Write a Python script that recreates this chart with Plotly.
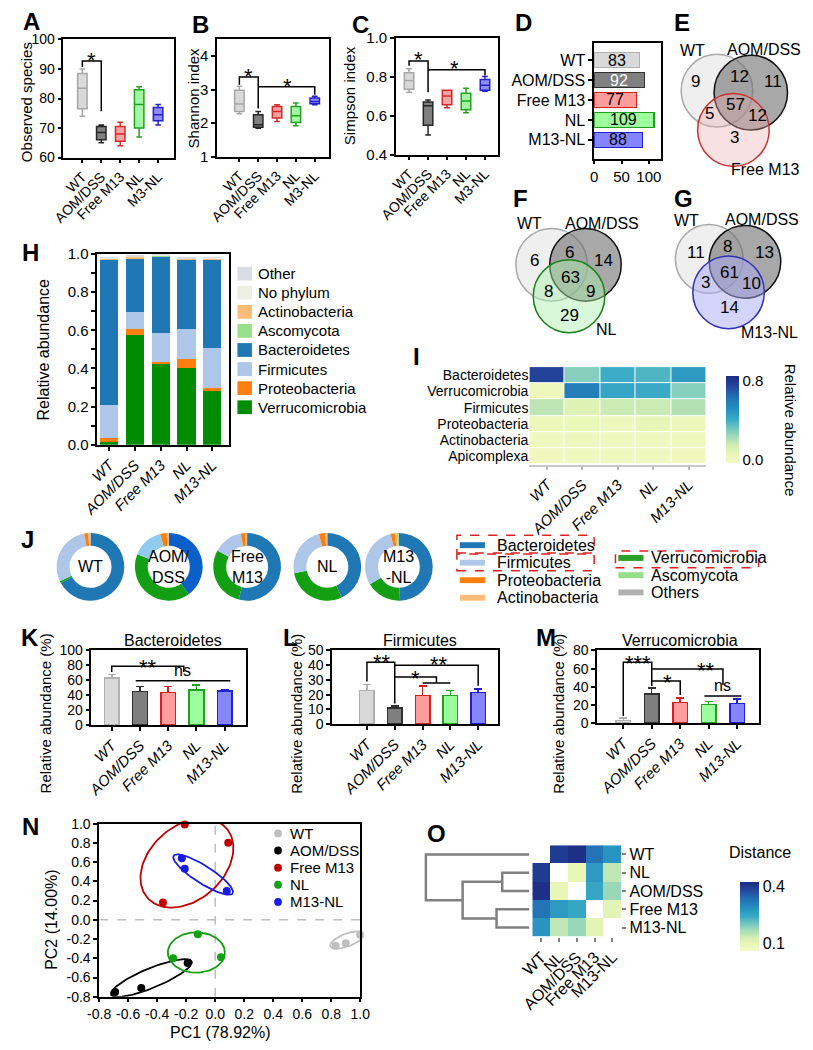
import numpy as np
import plotly.graph_objects as go

W, H = 813, 1050
FONT = "Arial, Liberation Sans, sans-serif"

# ------------------------------------------------------------------ data
box_groups = ["WT", "AOM/DSS", "Free M13", "NL", "M3-NL"]
groups = ["WT", "AOM/DSS", "Free M13", "NL", "M13-NL"]

obs_low = [74, 65, 64, 67, 71]
obs_q1 = [76.5, 66, 65.5, 70, 72.5]
obs_med = [83.5, 68.5, 68, 78, 74.5]
obs_q3 = [88.5, 70.5, 70.5, 83, 77]
obs_high = [90, 71, 72, 84, 78]
sha_low = [2.28, 1.85, 2.05, 1.92, 2.55]
sha_q1 = [2.35, 1.88, 2.15, 2.02, 2.58]
sha_med = [2.57, 1.95, 2.35, 2.22, 2.65]
sha_q3 = [2.98, 2.25, 2.5, 2.5, 2.75]
sha_high = [3.1, 2.35, 2.55, 2.6, 2.8]
sim_low = [0.72, 0.50, 0.64, 0.615, 0.725]
sim_q1 = [0.735, 0.55, 0.655, 0.63, 0.73]
sim_med = [0.78, 0.65, 0.70, 0.675, 0.755]
sim_q3 = [0.82, 0.67, 0.73, 0.715, 0.785]
sim_high = [0.84, 0.68, 0.73, 0.74, 0.80]

otu_counts = [83, 92, 77, 109, 88]

venn_E = [9, 12, 11, 5, 57, 12, 3]
venn_F = [6, 6, 14, 8, 63, 9, 29]
venn_G = [11, 8, 13, 3, 61, 10, 14]

H_verr = [0.015, 0.575, 0.425, 0.405, 0.28]
H_prot = [0.02, 0.03, 0.01, 0.045, 0.02]
H_firm = [0.175, 0.09, 0.15, 0.155, 0.205]
H_bact = [0.76, 0.28, 0.40, 0.365, 0.465]
H_asco = [0.0, 0.0, 0.008, 0.0, 0.0]
H_acti = [0.008, 0.01, 0.0, 0.005, 0.008]
H_noph = [0.003, 0.003, 0.004, 0.003, 0.003]
H_other = [0.002, 0.002, 0.006, 0.002, 0.002]

I_rows = ["Bacteroidetes", "Verrucomicrobia", "Firmicutes", "Proteobacteria", "Actinobacteria", "Apicomplexa"]
I_bact = [0.76, 0.28, 0.40, 0.37, 0.47]
I_verr = [0.015, 0.58, 0.43, 0.41, 0.28]
I_firm = [0.18, 0.09, 0.15, 0.15, 0.20]
I_prot = [0.02, 0.03, 0.01, 0.045, 0.02]
I_acti = [0.005, 0.01, 0.003, 0.005, 0.008]
I_apic = [0.0, 0.001, 0.003, 0.002, 0.0]

J_phyla = ["Bacteroidetes", "Verrucomicrobia", "Firmicutes", "Proteobacteria", "Actinobacteria", "Ascomycota"]
J_WT = [0.67, 0.01, 0.29, 0.02, 0.01, 0.0]
J_AOM = [0.40, 0.41, 0.15, 0.03, 0.01, 0.0]
J_Free = [0.54, 0.29, 0.14, 0.02, 0.01, 0.0]
J_NL = [0.43, 0.29, 0.24, 0.03, 0.01, 0.0]
J_M13NL = [0.50, 0.17, 0.30, 0.02, 0.01, 0.01]
J_names = ["WT", "AOM/<br>DSS", "Free<br>M13", "NL", "M13<br>-NL"]

bact_mean = [63, 45, 44, 47, 46]
bact_err = [5, 7, 8, 7, 2]
firm_mean = [23, 11, 19.5, 19.5, 21.5]
firm_err = [4, 1.5, 6.5, 3.5, 2.5]
verr_mean = [3, 32, 23, 20.5, 21.5]
verr_err = [2.5, 7, 5, 3.5, 5]

pc1_WT = [0.83, 0.90, 1.0]
pc2_WT = [-0.27, -0.245, -0.155]
pc1_AOM = [-0.69, -0.51, -0.19]
pc2_AOM = [-0.75, -0.71, -0.45]
pc1_Free = [-0.21, 0.09, -0.36]
pc2_Free = [0.99, 0.80, 0.18]
pc1_NL = [-0.12, -0.29, 0.04]
pc2_NL = [-0.15, -0.40, -0.39]
pc1_M13NL = [-0.23, -0.21, 0.08]
pc2_M13NL = [0.64, 0.53, 0.30]

O_labels = ["WT", "NL", "AOM/DSS", "Free M13", "M13-NL"]
O_dist = [[None, 0.40, 0.42, 0.33, 0.28],
          [0.40, None, 0.10, 0.27, 0.15],
          [0.42, 0.10, None, 0.25, 0.18],
          [0.33, 0.27, 0.25, None, 0.11],
          [0.28, 0.15, 0.18, 0.11, None]]
O_linkage = [[1, 2, 0.105], [3, 4, 0.127], [5, 6, 0.258], [0, 7, 0.40]]

# ------------------------------------------------------------------ styles
box_fill = ["#d9d9d9", "#7f7f7f", "#f7a3a3", "#a3f7a3", "#8c8cf5"]
box_line = ["#a6a6a6", "#262626", "#d42a2a", "#22a022", "#2222c8"]
bar_fill = ["#d9d9d9", "#7f7f7f", "#ff9c9c", "#9cff9c", "#8585ff"]
bar_line = ["#b0b0b0", "#303030", "#d42020", "#20a020", "#2020d0"]
H_col = {"Other": "#dadde3", "No phylum": "#eeefe2", "Actinobacteria": "#fdbb78",
         "Ascomycota": "#98df8a", "Bacteroidetes": "#1f77b4", "Firmicutes": "#aec7e8",
         "Proteobacteria": "#ff7f0e", "Verrucomicrobia": "#008c00"}
CS = [[0.0, '#f4fac6'], [0.1, '#eaf6b7'], [0.2, '#d2edb3'], [0.3, '#a5dcb8'],
      [0.4, '#6fc6bf'], [0.5, '#3aaac6'], [0.62, '#2690c0'], [0.75, '#2271b3'],
      [0.88, '#24479e'], [1.0, '#1c2d83']]

fig = go.Figure()
shapes, annotations = [], []
layout = dict(width=W, height=H, margin=dict(l=0, r=0, t=0, b=0),
              paper_bgcolor='white', plot_bgcolor='white', showlegend=False,
              font=dict(family=FONT, size=14, color='black'), barmode='stack')


def xd(a, b):
    return [a / W, b / W]


def yd(top, bottom):
    return [1 - bottom / H, 1 - top / H]


def ref(c, n):
    return c if n == 1 else f"{c}{n}"


def key(c, n):
    return f"{c}axis" if n == 1 else f"{c}axis{n}"


def base():
    return dict(showline=True, linecolor='black', linewidth=1.5, mirror=True, ticks='outside',
                ticklen=4, tickwidth=1.5, tickcolor='black', showgrid=False, zeroline=False,
                tickfont=dict(size=15, family=FONT, color='black'))


def set_axes(n, xpx, ypx, xo, yo):
    xa = base(); xa.update(domain=xd(*xpx), anchor=ref('y', n)); xa.update(xo)
    ya = base(); ya.update(domain=yd(*ypx), anchor=ref('x', n)); ya.update(yo)
    layout[key('x', n)] = xa
    layout[key('y', n)] = ya


def text(x, y, s, size=15, xa='center', ya='middle', color='black', angle=0,
         xref='paper', yref='paper', yshift=0, bold=False):
    if xref == 'paper':
        x = x / W
    if yref == 'paper':
        y = 1 - y / H
    if bold:
        s = f"<b>{s}</b>"
    annotations.append(dict(x=x, y=y, xref=xref, yref=yref, text=s, showarrow=False,
                            xanchor=xa, yanchor=ya, textangle=angle, yshift=yshift, borderpad=0,
                            font=dict(size=size, color=color, family=FONT)))


def bracket(n, pts, color='black'):
    path = 'M' + 'L'.join(f"{x},{y}" for x, y in pts)
    shapes.append(dict(type='path', path=path, xref=ref('x', n), yref=ref('y', n),
                       line=dict(color=color, width=1.5)))


def star(n, x, y, s, size=22):
    text(x, y, s, size=size, xref=ref('x', n), yref=ref('y', n), yshift=-0.25 * size)


def rect(x0, y0, x1, y1, fill, line=None, dash=None, lw=1.5):
    d = dict(type='rect', xref='paper', yref='paper', x0=x0 / W, x1=x1 / W,
             y0=1 - y1 / H, y1=1 - y0 / H, fillcolor=fill, layer='above')
    d['line'] = dict(width=0) if line is None else dict(color=line, width=lw, dash=dash or 'solid')
    shapes.append(d)


# panel letters: left edge / vertical centre in pixels
letters = [("A", 5, 13), ("B", 180, 16), ("C", 345, 16), ("D", 514, 14), ("E", 679, 14),
           ("F", 512, 193), ("G", 679, 193), ("H", 4, 248), ("I", 409, 353),
           ("J", 3, 539), ("K", 3, 639), ("L", 274, 639), ("M", 536, 639),
           ("N", 4, 831), ("O", 423, 838)]
for lt, lx, ly in letters:
    text(lx, ly, lt, size=24, bold=True, xa='left')

# ------------------------------------------------------------------ A, B, C
def box_panel(n, low, q1, med, q3, high):
    for i in range(5):
        fig.add_trace(go.Box(x=[i], lowerfence=[low[i]], q1=[q1[i]], median=[med[i]], q3=[q3[i]],
                             upperfence=[high[i]], fillcolor=box_fill[i],
                             line=dict(color=box_line[i], width=1.5), width=0.5, whiskerwidth=0.6,
                             boxpoints=False, xaxis=ref('x', n), yaxis=ref('y', n), hoverinfo='skip'))


xcat = dict(tickvals=list(range(5)), ticktext=box_groups, tickangle=-45, tickfont=dict(size=14, family=FONT))
ytf14 = dict(tickfont=dict(size=14, family=FONT))
box_panel(1, obs_low, obs_q1, obs_med, obs_q3, obs_high)
set_axes(1, (48, 162), (31, 151), dict(range=[-1.0, 4.82], **xcat),
         dict(range=[60, 100], tickvals=[60, 70, 80, 90, 100], **ytf14))
box_panel(2, sha_low, sha_q1, sha_med, sha_q3, sha_high)
set_axes(2, (207, 323), (31, 150), dict(range=[-1.18, 4.77], **xcat),
         dict(range=[1, 4.5], tickvals=[1, 2, 3, 4]))
box_panel(3, sim_low, sim_q1, sim_med, sim_q3, sim_high)
set_axes(3, (392, 498), (29, 148), dict(range=[-0.69, 4.71], **xcat),
         dict(range=[0.4, 1.0], tickvals=[0.4, 0.6, 0.8, 1.0], ticktext=['0.4', '0.6', '0.8', '1.0']))
text(10, 95, "Observed species", size=15, angle=-90)
text(183, 90, "Shannon index", size=15, angle=-90)
text(344, 88, "Simpson index", size=15, angle=-90)

bracket(1, [(0, 90.7), (0, 92.7), (1, 92.7), (1, 75.7)]); star(1, 0.5, 94.8, "*")
bracket(2, [(0, 3.15), (0, 3.38), (1, 3.38), (1, 2.44)]); star(2, 0.5, 3.55, "*")
bracket(2, [(1, 3.09), (4, 3.09), (4, 2.85)]); star(2, 2.55, 3.27, "*")
bracket(3, [(0, 0.855), (0, 0.88), (1, 0.88), (1, 0.72)]); star(3, 0.5, 0.915, "*")
bracket(3, [(1, 0.835), (4, 0.835), (4, 0.805)]); star(3, 2.4, 0.872, "*")

# ------------------------------------------------------------------ D
fig.add_trace(go.Bar(y=list(range(5)), x=otu_counts, orientation='h', width=0.75,
                     marker=dict(color=bar_fill, line=dict(color=bar_line, width=1.5)),
                     xaxis='x4', yaxis='y4', hoverinfo='skip'))
set_axes(4, (597, 666), (35, 152), dict(range=[0, 122], tickvals=[0, 50, 100]),
         dict(range=[4.94, -0.84], tickvals=list(range(5)), ticktext=groups, tickfont=dict(size=16, family=FONT)))
for i, v in enumerate(otu_counts):
    text(v / 2, i, str(v), size=16, xref='x4', yref='y4', color='white' if i == 1 else 'black')

# ------------------------------------------------------------------ Venn E/F/G
def venn(counts, centers, colors, names, name_pos, num_pos):
    for (cx, cy, r), (fc, lc) in zip(centers, colors):
        shapes.append(dict(type='circle', xref='paper', yref='paper', x0=(cx - r) / W, x1=(cx + r) / W,
                           y0=1 - (cy + r) / H, y1=1 - (cy - r) / H, fillcolor=fc,
                           line=dict(color=lc, width=1.5), layer='above'))
    for s, (x, y) in zip(names, name_pos):
        text(x, y, s, size=16)
    for c, (x, y) in zip(counts, num_pos):
        text(x, y, str(c), size=17)


WTc = ("rgba(215,215,215,0.4)", "#a8a8a8")
AOMc = ("rgba(110,110,110,0.6)", "#111111")
venn(venn_E, [(724, 83, 37), (759, 85, 38), (741, 123, 37)],
     [WTc, AOMc, ("rgba(240,170,170,0.35)", "#c83232")],
     ["WT", "AOM/DSS", "Free M13"], [(699, 42), (773, 41), (774, 163)],
     [(702, 74), (747, 69), (782, 74), (716, 106), (743, 97), (766, 108), (742, 131)])
venn(venn_F, [(553, 260, 37), (588, 260, 37), (571, 292, 37)],
     [WTc, AOMc, ("rgba(170,240,170,0.45)", "#1c801c")],
     ["WT", "AOM/DSS", "NL"], [(530, 218), (605, 218), (610, 326)],
     [(535, 256), (571, 247), (607, 256), (550, 287), (573, 273), (593, 287), (571, 312)])
venn(venn_G, [(716, 254, 35), (753, 257, 37), (736, 288, 37)],
     [WTc, AOMc, ("rgba(170,170,245,0.5)", "#3030b8")],
     ["WT", "AOM/DSS", "M13-NL"], [(692, 215), (771, 214), (778, 329)],
     [(702, 247), (735, 241), (773, 247), (712, 278), (737, 268), (760, 279), (737, 303)])

# ------------------------------------------------------------------ H
H_stack = [("Verrucomicrobia", H_verr), ("Proteobacteria", H_prot), ("Firmicutes", H_firm),
           ("Bacteroidetes", H_bact), ("Ascomycota", H_asco), ("Actinobacteria", H_acti),
           ("No phylum", H_noph), ("Other", H_other)]
for nm, vals in H_stack:
    fig.add_trace(go.Bar(x=list(range(5)), y=vals, width=0.71, marker=dict(color=H_col[nm], line=dict(width=0)),
                         xaxis='x5', yaxis='y5', hoverinfo='skip'))
set_axes(5, (83, 219), (249, 443),
         dict(range=[-0.47, 4.64], tickvals=list(range(5)), ticktext=[f"<i>{g}</i>" for g in groups],
              tickangle=-45),
         dict(range=[0, 1], tickvals=[0, 0.2, 0.4, 0.6, 0.8, 1.0],
              ticktext=['0.0', '0.2', '0.4', '0.6', '0.8', '1.0'],
              minor=dict(dtick=0.1, ticks='outside', ticklen=4, tickwidth=1.5, tickcolor='black')))
text(27, 346, "Relative abundance", size=16, angle=-90)
for i, nm in enumerate(["Other", "No phylum", "Actinobacteria", "Ascomycota", "Bacteroidetes",
                        "Firmicutes", "Proteobacteria", "Verrucomicrobia"]):
    y = 269 + 19.4 * i
    rect(228, y - 7, 243, y + 7, H_col[nm])
    text(248, y, nm, size=15, xa='left')

# ------------------------------------------------------------------ I
fig.add_trace(go.Heatmap(z=[I_bact, I_verr, I_firm, I_prot, I_acti, I_apic], x=list(range(5)), y=list(range(6)),
                         colorscale=CS, zmin=-0.04, zmax=0.85, xgap=1, ygap=1, xaxis='x6', yaxis='y6',
                         hoverinfo='skip',
                         colorbar=dict(x=723 / W, xanchor='left', y=1 - 417.5 / H, yanchor='middle',
                                       len=109 / H, lenmode='fraction', thickness=13, outlinewidth=0,
                                       tickvals=[0, 0.8], ticktext=['0.0', '0.8'], ticks='',
                                       tickfont=dict(size=15, family=FONT))))
set_axes(6, (530, 713), (364, 463),
         dict(range=[-0.5, 4.5], tickvals=list(range(5)), ticktext=[f"<i>{g}</i>" for g in groups],
              tickangle=-45, mirror=False, linecolor='#c8c8c8', tickcolor='#b8b8b8', linewidth=1.5),
         dict(range=[5.5, -0.5], tickvals=list(range(6)), ticktext=I_rows, showline=False, ticks='',
              tickfont=dict(size=14, family=FONT)))
text(801, 428, "Relative abundance", size=15, angle=90)

# ------------------------------------------------------------------ J
J_vals = [J_WT, J_AOM, J_Free, J_NL, J_M13NL]
J_cx = [76, 157, 238, 321, 395]
cy, r = 567, 35
for k, vals in enumerate(J_vals):
    bc = "#0a60c8" if k == 1 else "#1f77b4"
    fc = "#8ecbee" if k == 1 else "#aec7e8"
    cols = [bc, "#12a012", fc, "#ff7f0e", "#ffbb78", "#98df8a"]
    fig.add_trace(go.Pie(values=vals, labels=J_phyla, marker=dict(colors=cols, line=dict(width=0)),
                         hole=0.62, sort=False, direction='clockwise', rotation=0, textinfo='none',
                         hoverinfo='skip', showlegend=False,
                         domain=dict(x=[(J_cx[k] - r) / W, (J_cx[k] + r) / W], y=[1 - (cy + r) / H, 1 - (cy - r) / H])))
    text(J_cx[k], cy, J_names[k], size=16)

Jleg1 = [("Bacteroidetes", "#1f77b4"), ("Firmicutes", "#aec7e8"), ("Proteobacteria", "#ff7f0e"), ("Actinobacteria", "#ffbb78")]
Jleg2 = [("Verrucomicrobia", "#2ca02c"), ("Ascomycota", "#98df8a"), ("Others", "#b0b0b0")]
for i, (nm, c) in enumerate(Jleg1):
    y = 545 + 17.8 * i
    rect(458, y - 3, 484, y + 3, c)
    text(495, y, nm, size=16, xa='left')
for i, (nm, c) in enumerate(Jleg2):
    y = 558 + 17.5 * i
    rect(622, y - 3, 648, y + 3, c)
    text(655, y, nm, size=16, xa='left')
rect(455, 535, 597, 553, 'rgba(0,0,0,0)', line='#e02020', dash='dash')
rect(455, 554, 597, 571, 'rgba(0,0,0,0)', line='#e02020', dash='dash')
rect(619, 551, 767, 568, 'rgba(0,0,0,0)', line='#e02020', dash='dash')

# ------------------------------------------------------------------ K, L, M
def bar_panel(n, means, errs):
    for i in range(5):
        fig.add_trace(go.Bar(x=[i], y=[means[i]], width=0.52,
                             marker=dict(color=bar_fill[i], line=dict(color=bar_line[i], width=1.5)),
                             error_y=dict(type='data', array=[errs[i]], arrayminus=[0], symmetric=False,
                                          color=bar_line[i], thickness=1.5, width=4),
                             xaxis=ref('x', n), yaxis=ref('y', n), hoverinfo='skip'))


xcat2 = dict(tickvals=list(range(5)), ticktext=[f"<i>{g}</i>" for g in groups], tickangle=-45)
bar_panel(7, bact_mean, bact_err)
set_axes(7, (77, 237), (652, 728), dict(range=[-0.72, 4.76], **xcat2),
         dict(range=[0, 100], tickvals=[0, 20, 40, 60, 80, 100], **ytf14))
bar_panel(8, firm_mean, firm_err)
set_axes(8, (326, 498), (652, 727), dict(range=[-1.25, 4.73], **xcat2),
         dict(range=[0, 50], tickvals=[0, 10, 20, 30, 40, 50], **ytf14))
bar_panel(9, verr_mean, verr_err)
set_axes(9, (600, 767), (652, 726), dict(range=[-0.92, 4.75], **xcat2),
         dict(range=[0, 80], tickvals=[0, 20, 40, 60, 80], **ytf14))
for xp in (29, 289, 560):
    text(xp, 716, "Relative abundance (%)", size=15, angle=-90)
text(161, 642, "Bacteroidetes", size=16)
text(417, 642, "Firmicutes", size=16)
text(686, 642, "Verrucomicrobia", size=16)

bracket(7, [(0, 71), (0, 79), (2.55, 79), (2.55, 71)]); star(7, 1.3, 85, "**")
bracket(7, [(0.85, 59.5), (4.2, 59.5)]); text(2.5, 60.5, "ns", size=16, xref='x7', yref='y7', ya='bottom')
bracket(8, [(0, 29), (0, 42), (1, 42), (1, 14)]); star(8, 0.55, 45.5, "**")
bracket(8, [(1, 40), (4, 40), (4, 26)]); star(8, 2.6, 44, "**")
bracket(8, [(1, 32), (2.5, 32), (2.5, 28)]); bracket(8, [(2, 28), (3, 28)]); star(8, 1.75, 35, "*")
bracket(9, [(0, 8), (0, 67), (1, 67), (1, 41)]); star(9, 0.5, 71.5, "***")
bracket(9, [(1, 59.5), (3.5, 59.5), (3.5, 42)]); star(9, 2.9, 64, "**")
bracket(9, [(1, 46.5), (2, 46.5), (2, 31)]); star(9, 1.55, 51, "*")
bracket(9, [(2.85, 30), (4.15, 30)]); text(3.5, 31, "ns", size=16, xref='x9', yref='y9', ya='bottom')

# ------------------------------------------------------------------ N
N_groups = [("WT", pc1_WT, pc2_WT, "#bfbfbf"), ("AOM/DSS", pc1_AOM, pc2_AOM, "#000000"),
            ("Free M13", pc1_Free, pc2_Free, "#c00000"), ("NL", pc1_NL, pc2_NL, "#10a010"),
            ("M13-NL", pc1_M13NL, pc2_M13NL, "#1a1ae6")]
# ellipse outlines: centre (data units), semi-axes (px), angle (deg)
N_ell = {"WT": (0.91, -0.21, 18.5, 6.5, 20), "AOM/DSS": (-0.44, -0.605, 45, 10, 22),
         "Free M13": (-0.195, 0.59, 54, 38, 40), "NL": (-0.13, -0.34, 29.5, 20.5, 0),
         "M13-NL": (-0.083, 0.47, 36, 9, -32)}
sx, sy = 270 / 1.8, 176 / 1.8
tt = np.linspace(0, 2 * np.pi, 120)
for nm, xs, ys, c in N_groups:
    ecx, ecy, a, b, th = N_ell[nm]
    th = np.radians(th)
    ex = ecx + (a * np.cos(th) * np.cos(tt) - b * np.sin(th) * np.sin(tt)) / sx
    ey = ecy + (a * np.sin(th) * np.cos(tt) + b * np.cos(th) * np.sin(tt)) / sy
    fig.add_trace(go.Scatter(x=ex, y=ey, mode='lines', line=dict(color=c, width=1.8),
                             xaxis='x10', yaxis='y10', hoverinfo='skip', cliponaxis=False))
    fig.add_trace(go.Scatter(x=xs, y=ys, mode='markers', marker=dict(color=c, size=8),
                             xaxis='x10', yaxis='y10', hoverinfo='skip', cliponaxis=False))
shapes.append(dict(type='line', xref='x10', yref='y10', x0=0, x1=0, y0=-0.8, y1=1.0, layer='below',
                   line=dict(color='#bdbdbd', width=1.5, dash='dash')))
shapes.append(dict(type='line', xref='x10', yref='y10', x0=-0.8, x1=1.0, y0=0, y1=0, layer='below',
                   line=dict(color='#bdbdbd', width=1.5, dash='dash')))
nt = [round(-0.8 + 0.2 * k, 1) for k in range(10)]
set_axes(10, (85, 355), (828, 1004),
         dict(range=[-0.8, 1.0], tickvals=nt, ticktext=[f"{v:.1f}" for v in nt], tickfont=dict(size=14, family=FONT)),
         dict(range=[-0.8, 1.0], tickvals=nt, ticktext=[f"{v:.1f}" for v in nt], tickfont=dict(size=14, family=FONT)))
text(210, 1040, "PC1 (78.92%)", size=16)
text(35, 925, "PC2 (14.00%)", size=16, angle=-90)
for i, (nm, xs, ys, c) in enumerate(N_groups):
    y = 838 + 17.4 * i
    shapes.append(dict(type='circle', xref='paper', yref='paper', x0=266 / W, x1=274 / W,
                       y0=1 - (y + 4) / H, y1=1 - (y - 4) / H, fillcolor=c, line=dict(width=0)))
    text(281, y, nm, size=15, xa='left')

# ------------------------------------------------------------------ O
fig.add_trace(go.Heatmap(z=O_dist, x=list(range(5)), y=list(range(5)), colorscale=CS, zmin=0.064, zmax=0.424,
                         xaxis='x11', yaxis='y11', hoverinfo='skip',
                         colorbar=dict(x=738 / W, xanchor='left', y=1 - 922 / H, yanchor='middle',
                                       len=90 / H, lenmode='fraction', thickness=19, outlinewidth=0,
                                       tickvals=[0.1, 0.4], ticktext=['0.1', '0.4'], ticks='',
                                       tickfont=dict(size=16, family=FONT))))
set_axes(11, (533, 625), (850, 943),
         dict(range=[-0.5, 4.5], tickvals=list(range(5)), ticktext=O_labels, tickangle=-45, showline=False,
              tickcolor='#808080', tickfont=dict(size=16, family=FONT)),
         dict(range=[4.5, -0.5], tickvals=list(range(5)), ticktext=O_labels, side='right', showline=False,
              tickcolor='#808080', tickfont=dict(size=16, family=FONT)))
text(769, 857, "Distance", size=16)

nodes = [(float(i), 0.0) for i in range(5)]
dx, dy = [], []
for a_, b_, h in O_linkage:
    (ya_, ha), (yb_, hb) = nodes[a_], nodes[b_]
    dx += [ha, h, h, hb, None]
    dy += [ya_, ya_, yb_, yb_, None]
    nodes.append(((ya_ + yb_) / 2, h))
fig.add_trace(go.Scatter(x=dx, y=dy, mode='lines', line=dict(color='#808080', width=2.5),
                         xaxis='x12', yaxis='y12', hoverinfo='skip', cliponaxis=False))
set_axes(12, (420, 530), (850, 943), dict(range=[0.411, 0], visible=False),
         dict(range=[4.5, -0.5], visible=False))

layout['shapes'] = shapes
layout['annotations'] = annotations
fig.update_layout(**layout)
fig.write_html("out.html", config={'displayModeBar': False},
               post_script="document.body.style.margin='0px';document.body.style.overflow='hidden';")
